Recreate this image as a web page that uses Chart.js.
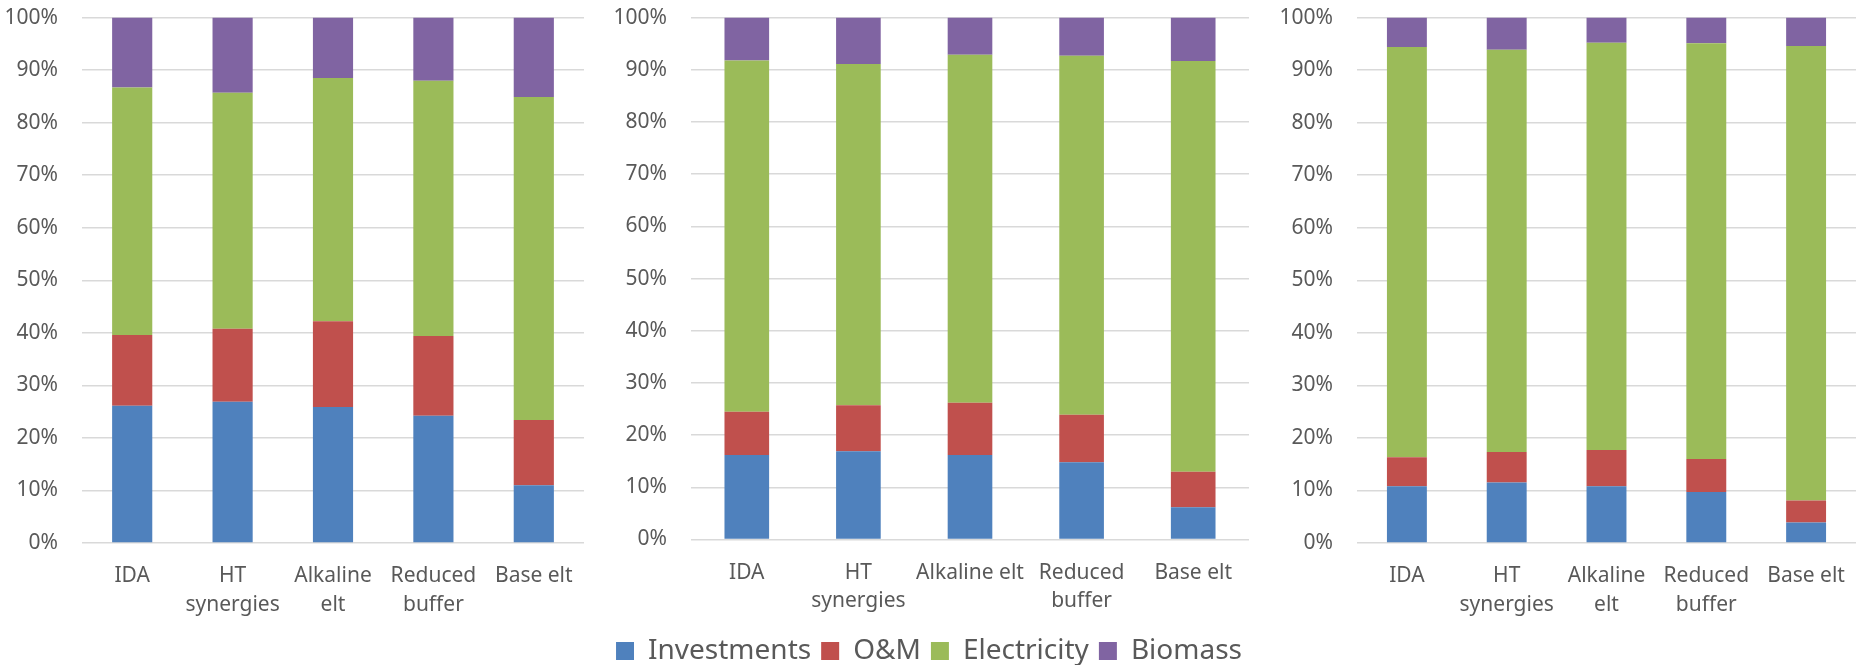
<!DOCTYPE html>
<html>
<head>
<meta charset="utf-8">
<script src="https://cdn.jsdelivr.net/npm/chart.js@4/dist/chart.umd.min.js"></script>
<style>
  html, body { margin: 0; padding: 0; background: #fff; }
  #wrap { position: relative; width: 1858px; height: 665px; overflow: hidden; }
  canvas { position: absolute; }
</style>
</head>
<body>
<div id="wrap">
  <canvas id="c1" width="584" height="680" style="left:0;top:-19px"></canvas>
  <canvas id="c2" width="649" height="680" style="left:600px;top:-19px"></canvas>
  <canvas id="c3" width="596" height="680" style="left:1260px;top:-19px"></canvas>
  <canvas id="legend" width="1858" height="120" style="left:0;top:627px"></canvas>
</div>
<script>
// 三個情境的成本組成（百分比）
const SERIES_NAMES = ["Investments", "O&M", "Electricity", "Biomass"];
const COLORS = ["#4F81BD", "#C0504D", "#9BBB59", "#8064A2"];

const labelsWrapped = ["IDA", ["HT", "synergies"], ["Alkaline", "elt"], ["Reduced", "buffer"], "Base elt"];
const labelsMid = ["IDA", ["HT", "synergies"], "Alkaline elt", ["Reduced", "buffer"], "Base elt"];

const yTicks = [0, 10, 20, 30, 40, 50, 60, 70, 80, 90, 100];

// 左圖
const invest1 = [26.1, 26.9, 25.9, 24.2, 11.0];
const om1 = [13.5, 13.9, 16.3, 15.2, 12.4];
const elec1 = [47.1, 44.9, 46.3, 48.6, 61.5];
const bio1 = [13.3, 14.3, 11.5, 12.0, 15.1];

// 中圖
const invest2 = [16.2, 16.9, 16.2, 14.8, 6.2];
const om2 = [8.3, 8.8, 10.0, 9.1, 6.8];
const elec2 = [67.3, 65.4, 66.7, 68.8, 78.7];
const bio2 = [8.2, 8.9, 7.1, 7.3, 8.3];

// 右圖
const invest3 = [10.8, 11.5, 10.8, 9.7, 3.9];
const om3 = [5.5, 5.8, 6.9, 6.3, 4.2];
const elec3 = [78.1, 76.6, 77.5, 79.1, 86.5];
const bio3 = [5.6, 6.1, 4.8, 4.9, 5.4];

Chart.defaults.font.family = "'Noto Sans', 'DejaVu Sans', sans-serif";
Chart.defaults.color = "#595959";
Chart.defaults.animation = false;

function makeDatasets(rows) {
  return rows.map((data, i) => ({
    label: SERIES_NAMES[i],
    data: data,
    backgroundColor: COLORS[i],
    borderWidth: 0,
    categoryPercentage: 1,
    barPercentage: 0.4
  }));
}

// 建立一個堆疊長條圖，yWidth/xHeight 固定軸的尺寸讓三張圖對齊
function makePanel(id, labels, rows, yWidth, xHeight) {
  const ctx = document.getElementById(id).getContext("2d");
  return new Chart(ctx, {
    type: "bar",
    data: { labels: labels, datasets: makeDatasets(rows) },
    options: {
      responsive: false,
      layout: { padding: 0 },
      plugins: { legend: { display: false }, tooltip: { enabled: false } },
      scales: {
        x: {
          stacked: true,
          grid: { display: false },
          border: { display: false },
          ticks: {
            font: { size: 21, lineHeight: 1.35 },
            padding: 11,
            maxRotation: 0,
            autoSkip: false
          },
          afterFit: (scale) => { scale.height = xHeight; }
        },
        y: {
          stacked: true,
          min: 0,
          max: 100,
          afterBuildTicks: (scale) => {
            scale.ticks = yTicks.map((v) => ({ value: v }));
          },
          grid: { color: "#D9D9D9", lineWidth: 1.5, drawTicks: false },
          border: { display: false },
          ticks: {
            font: { size: 21 },
            padding: 24,
            callback: (v) => v + "%"
          },
          afterFit: (scale) => { scale.width = yWidth; }
        }
      }
    }
  });
}

makePanel("c1", labelsWrapped, [invest1, om1, elec1, bio1], 82, 118);
makePanel("c2", labelsMid, [invest2, om2, elec2, bio2], 91, 121.5);
makePanel("c3", labelsWrapped, [invest3, om3, elec3, bio3], 97, 118);

// 共用圖例
new Chart(document.getElementById("legend").getContext("2d"), {
  type: "bar",
  data: {
    labels: [],
    datasets: SERIES_NAMES.map((name, i) => ({
      label: name,
      data: [],
      backgroundColor: COLORS[i],
      borderWidth: 0
    }))
  },
  options: {
    responsive: false,
    scales: { x: { display: false }, y: { display: false } },
    plugins: {
      tooltip: { enabled: false },
      legend: {
        display: true,
        position: "top",
        maxHeight: 110,
        onClick: null,
        labels: {
          font: { size: 28 },
          color: "#595959",
          boxWidth: 18,
          boxHeight: 18,
          padding: 10
        }
      }
    }
  }
});
</script>
</body>
</html>
